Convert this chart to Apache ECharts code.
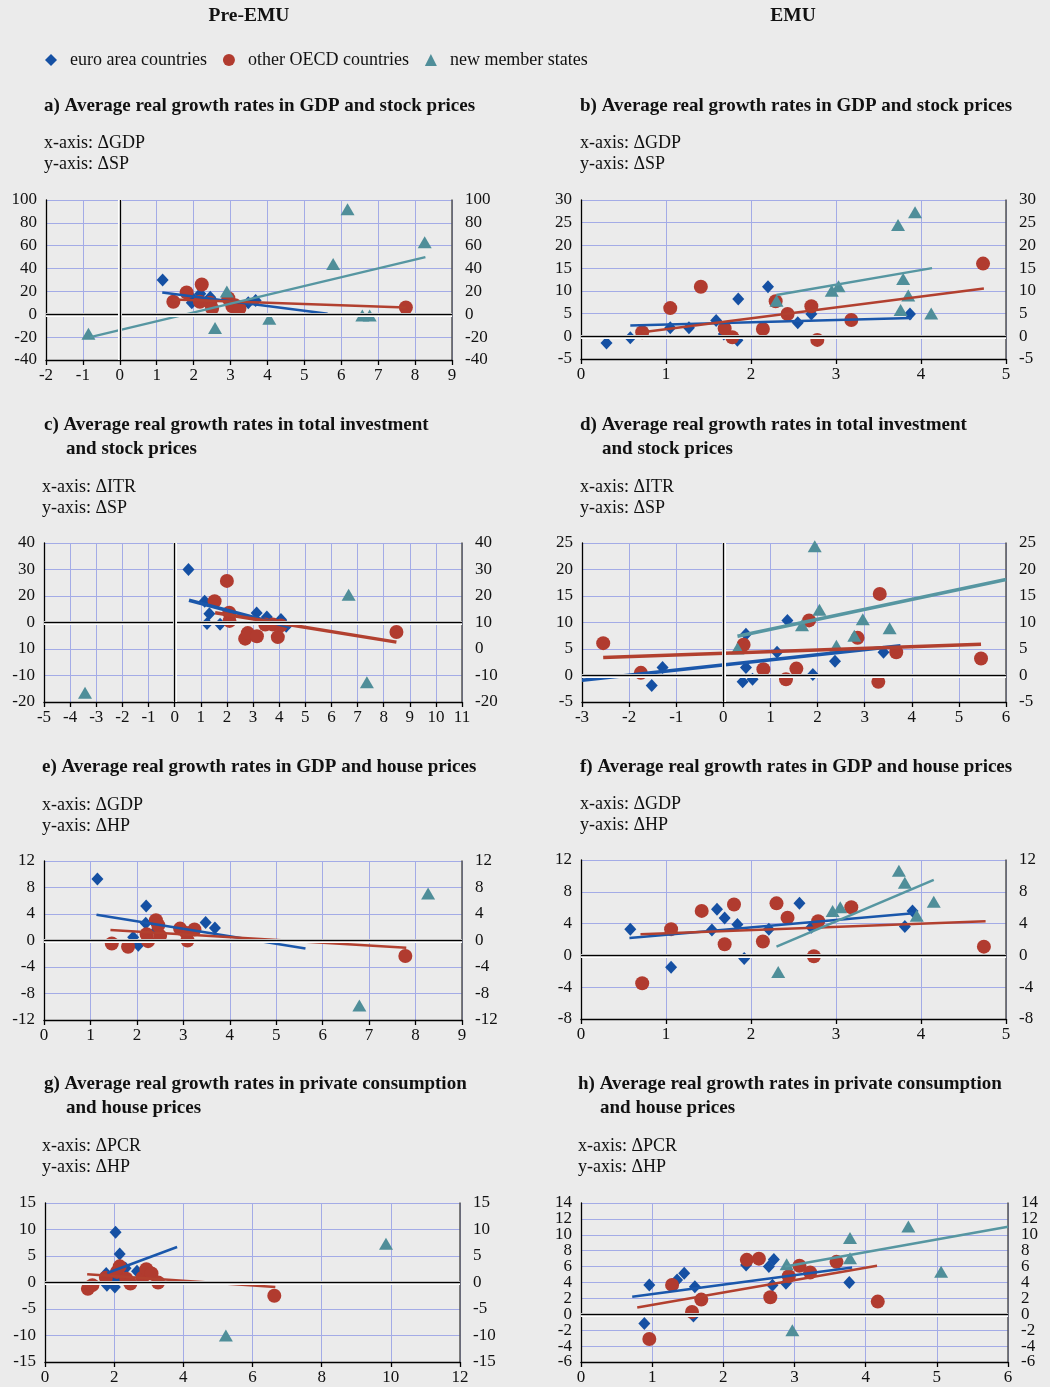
<!DOCTYPE html>
<html><head><meta charset="utf-8">
<script src="https://cdn.jsdelivr.net/npm/echarts@6/dist/echarts.min.js"></script>
<style>html,body{margin:0;padding:0;background:#ebebeb;}#c{width:1050px;height:1387px;}</style>
</head><body><div id="c"></div>
<script>
// ---------- DATA ----------
const legendNames = ['euro area countries', 'other OECD countries', 'new member states'];

// a) Pre-EMU: GDP vs stock prices
const aX = [-2, 9, 1], aY = [-40, 100, 20];
const aEuro = [[1.16,30],[1.95,10],[2.0,13],[2.18,18],[2.45,15],[2.5,12],[3.48,10],[3.68,12]];
const aOecd = [[1.45,11],[1.81,19],[2.22,26],[2.17,11],[2.45,10],[2.5,5],[2.94,14],[3.05,7],[3.12,8],[3.24,5],[7.75,6]];
const aNew  = [[-0.85,-17],[2.58,-12],[2.9,20],[4.05,-4],[5.78,44],[6.17,92],[6.57,-1],[6.77,-1],[8.26,63]];
const aEuroFit = [[1.15,19],[5.63,0.5]], aOecdFit = [[1.45,13],[7.75,6]], aNewFit = [[-0.8,-20],[8.28,50]];

// b) EMU: GDP vs stock prices
const bX = [0, 5, 1], bY = [-5, 30, 5];
const bEuro = [[0.3,-1.5],[0.58,-0.3],[1.05,1.9],[1.27,1.9],[1.59,3.5],[1.68,0.5],[1.84,-0.9],[1.85,8.2],[2.2,10.9],[2.55,3.0],[2.71,4.9],[3.87,4.9]];
const bOecd = [[0.72,0.9],[1.05,6.2],[1.41,10.9],[1.69,1.7],[1.78,-0.2],[2.14,1.6],[2.29,7.7],[2.43,4.9],[2.71,6.6],[2.78,-0.8],[3.18,3.6],[4.73,16]];
const bNew  = [[2.3,7.8],[2.95,10],[3.03,11],[3.73,24.5],[3.93,27.3],[3.79,12.6],[3.85,9],[3.76,5.8],[4.12,5]];
const bEuroFit = [[0.58,2.4],[3.89,4.0]], bOecdFit = [[0.72,0.9],[4.74,10.5]], bNewFit = [[2.3,9.1],[4.13,15]];

// c) Pre-EMU: total investment vs stock prices
const cX = [-5, 11, 1], cY = [-20, 40, 10];
const cLeftLabels = {'-20':'-20','-10':'-10','0':'10','10':'0','20':'20','30':'30','40':'40'};
const cCrossY = 10;
const cEuro = [[0.53,30],[1.15,18],[1.33,13.3],[1.24,9.6],[1.74,9.3],[2.12,10.8],[3.14,13.6],[3.53,12.1],[4.07,11.1],[4.27,8.6]];
const cOecd = [[1.53,18],[2.0,25.7],[2.09,13.7],[2.1,10.6],[2.7,3.9],[2.8,6],[3.15,4.8],[3.47,9.2],[3.76,9.2],[3.95,4.5],[4.07,8.9],[8.49,6.4]];
const cNew  = [[-3.43,-16.5],[6.66,20.5],[7.36,-12.5]];
const cEuroFit = [[0.55,18.4],[4.42,8.3]], cOecdFit = [[1.55,13.7],[8.49,2.6]];

// d) EMU: total investment vs stock prices
const dX = [-3, 6, 1], dY = [-5, 25, 5];
const dEuro = [[-1.52,-1.9],[-1.29,1.5],[0.41,-1.2],[0.62,-0.7],[0.48,1.5],[0.48,7.8],[1.14,4.4],[1.36,10.4],[1.9,0.2],[2.37,2.7],[3.4,4.4]];
const dOecd = [[-2.55,6.1],[-1.75,0.5],[0.43,5.8],[0.85,1.2],[1.33,-0.7],[1.55,1.3],[1.82,10.4],[2.85,7.1],[3.32,15.4],[3.29,-1.2],[3.67,4.4],[5.47,3.2]];
const dNew  = [[0.3,5.1],[1.67,9.5],[1.94,24.4],[2.04,12.4],[2.4,5.6],[2.78,7.5],[2.96,10.6],[3.53,8.9]];
const dEuroFit = [[-3,-0.9],[3.76,5.6]], dOecdFit = [[-2.55,3.4],[5.47,5.9]], dNewFit = [[0.3,7.4],[6,18.1]];

// e) Pre-EMU: GDP vs house prices
const eX = [0, 9, 1], eY = [-12, 12, 4];
const eEuro = [[1.15,9.3],[2.2,5.2],[2.19,2.6],[1.92,0.5],[2.03,-0.7],[2.42,1.6],[3.48,2.7],[3.68,1.9]];
const eOecd = [[1.46,-0.45],[1.81,-0.95],[2.21,0.95],[2.24,-0.1],[2.41,3.05],[2.46,2.3],[2.5,0.7],[2.93,1.8],[3.07,1.15],[3.09,0],[3.24,1.65],[7.78,-2.35]];
const eNew  = [[6.79,-9.8],[8.27,7.1]];
const eEuroFit = [[1.13,3.9],[5.63,-1.2]], eOecdFit = [[1.43,1.6],[7.8,-1.1]];

// f) EMU: GDP vs house prices
const fX = [0, 5, 1], fY = [-8, 12, 4];
const fEuro = [[0.58,3.3],[1.06,-1.5],[1.54,3.2],[1.6,5.8],[1.69,4.7],[1.84,3.9],[1.92,-0.4],[2.21,3.3],[2.57,6.55],[2.71,3.55],[3.81,3.65],[3.9,5.6]];
const fOecd = [[0.72,-3.5],[1.06,3.3],[1.42,5.6],[1.69,1.4],[1.8,6.4],[2.14,1.75],[2.3,6.55],[2.43,4.75],[2.74,-0.1],[2.79,4.3],[3.18,6.05],[4.74,1.1]];
const fNew  = [[2.32,-2.1],[2.96,5.6],[3.05,6.05],[3.74,10.65],[3.81,9.15],[3.95,5.0],[4.15,6.75]];
const fEuroFit = [[0.57,2.2],[3.91,5.3]], fOecdFit = [[0.7,2.65],[4.76,4.3]], fNewFit = [[2.3,1.1],[4.15,9.5]];

// g) Pre-EMU: private consumption vs house prices
const gX = [0, 12, 2], gY = [-15, 15, 5];
const gEuro = [[2.04,9.5],[2.16,5.4],[2.33,2.7],[2.66,2.1],[1.77,1.7],[1.79,-0.5],[2.02,-0.85],[2.06,0.7]];
const gOecd = [[1.24,-1.2],[1.37,-0.5],[1.76,0.9],[2.08,2.0],[2.16,3.05],[2.35,0.7],[2.47,-0.2],[2.82,0.9],[2.93,2.5],[3.08,1.7],[3.27,0],[6.63,-2.5]];
const gNew  = [[5.23,-10],[9.86,7.3]];
const gEuroFit = [[1.8,1.8],[3.82,6.7]], gOecdFit = [[1.22,1.55],[6.66,-0.85]];

// h) EMU: private consumption vs house prices
const hX = [0, 6, 1], hY = [-6, 14, 2];
const hEuro = [[0.89,-1.15],[0.96,3.7],[1.35,4.3],[1.45,5.15],[1.6,3.45],[1.58,-0.2],[2.32,6.2],[2.64,6.0],[2.71,6.9],[2.69,3.65],[2.88,3.9],[3.77,4.0]];
const hOecd = [[0.96,-3.1],[1.28,3.7],[1.56,0.3],[1.69,1.85],[2.33,6.85],[2.5,7.0],[2.66,2.15],[2.92,4.8],[3.07,6.1],[3.22,5.25],[3.59,6.6],[4.17,1.6]];
const hNew  = [[2.89,6.3],[2.97,-2.0],[3.78,9.6],[3.78,7.05],[4.6,11.05],[5.06,5.35]];
const hEuroFit = [[0.72,2.2],[3.81,5.9]], hOecdFit = [[0.79,0.85],[4.16,6.1]], hNewFit = [[2.87,6.0],[6,11.0]];

const headers = ['Pre-EMU', 'EMU'];
const panelTitles = {
  a: ['a) Average real growth rates in GDP and stock prices'],
  b: ['b) Average real growth rates in GDP and stock prices'],
  c: ['c) Average real growth rates in total investment', 'and stock prices'],
  d: ['d) Average real growth rates in total investment', 'and stock prices'],
  e: ['e) Average real growth rates in GDP and house prices'],
  f: ['f) Average real growth rates in GDP and house prices'],
  g: ['g) Average real growth rates in private consumption', 'and house prices'],
  h: ['h) Average real growth rates in private consumption', 'and house prices']
};
const axisNotes = {
  a: ['x-axis: ΔGDP', 'y-axis: ΔSP'], b: ['x-axis: ΔGDP', 'y-axis: ΔSP'],
  c: ['x-axis: ΔITR', 'y-axis: ΔSP'], d: ['x-axis: ΔITR', 'y-axis: ΔSP'],
  e: ['x-axis: ΔGDP', 'y-axis: ΔHP'], f: ['x-axis: ΔGDP', 'y-axis: ΔHP'],
  g: ['x-axis: ΔPCR', 'y-axis: ΔHP'], h: ['x-axis: ΔPCR', 'y-axis: ΔHP']
};

// ---------- LAYOUT / STYLE ----------
const FONT = '"Liberation Serif", "Times New Roman", serif';
const GRIDC = '#a3abe6';
const COL = {euro: '#1550a3', oecd: '#b13b2f', nms: '#4f8e99'};
const LINEC = {euro: '#1a57ab', oecd: '#b2402f', nms: '#5696a1'};

const panels = [
  {k:'a', grid:{left:46, top:200, width:406, height:160}, x:aX, y:aY, pts:[aEuro,aOecd,aNew], fits:[aEuroFit,aOecdFit,aNewFit], lw:2.5, hz:0, vz:0,
   tx:[44,106], nx:[44,143]},
  {k:'b', grid:{left:581, top:200, width:425, height:159}, x:bX, y:bY, pts:[bEuro,bOecd,bNew], fits:[bEuroFit,bOecdFit,bNewFit], lw:2.5, hz:0, vz:null,
   tx:[580,106], nx:[580,143]},
  {k:'c', grid:{left:44, top:543, width:418, height:159}, x:cX, y:cY, pts:[cEuro,cOecd,cNew], fits:[cEuroFit,cOecdFit,null], lw:3.5, hz:cCrossY, vz:0,
   tx:[44,425], nx:[42,487], leftMap:cLeftLabels},
  {k:'d', grid:{left:582, top:543, width:424, height:159}, x:dX, y:dY, pts:[dEuro,dOecd,dNew], fits:[dEuroFit,dOecdFit,dNewFit], lw:3.5, hz:0, vz:0,
   tx:[580,425], nx:[580,487]},
  {k:'e', grid:{left:44, top:861, width:418, height:159}, x:eX, y:eY, pts:[eEuro,eOecd,eNew], fits:[eEuroFit,eOecdFit,null], lw:2.5, hz:0, vz:null,
   tx:[42,767], nx:[42,805]},
  {k:'f', grid:{left:581, top:860, width:425, height:159}, x:fX, y:fY, pts:[fEuro,fOecd,fNew], fits:[fEuroFit,fOecdFit,fNewFit], lw:2.5, hz:0, vz:null,
   tx:[580,767], nx:[580,804]},
  {k:'g', grid:{left:45, top:1203, width:415, height:159}, x:gX, y:gY, pts:[gEuro,gOecd,gNew], fits:[gEuroFit,gOecdFit,null], lw:2.5, hz:0, vz:null,
   tx:[44,1084], nx:[42,1146]},
  {k:'h', grid:{left:581, top:1203, width:427, height:159}, x:hX, y:hY, pts:[hEuro,hOecd,hNew], fits:[hEuroFit,hOecdFit,hNewFit], lw:2.5, hz:0, vz:null,
   tx:[578,1084], nx:[578,1146], dense:true}
];

const grids = [], xAxes = [], yAxes = [], extraY = [], series = [], graphics = [];
const labelStyle = {fontFamily: FONT, fontSize: 17, color: '#111', showMinLabel: true, showMaxLabel: true};

function txt(text, x, y, bold, size, align) {
  graphics.push({type:'text', x:x, y:y, silent:true, style:{
    text:text, font:(bold ? 'bold ' : '') + size + 'px ' + FONT, fill:'#111',
    align: align || 'left', verticalAlign:'middle', textAlign: align || 'left', textVerticalAlign:'middle'}});
}

txt(headers[0], 249, 16, true, 19.5, 'center');
txt(headers[1], 793, 16, true, 19.5, 'center');

const keys = ['euro', 'oecd', 'nms'];
const symbols = ['diamond', 'circle', 'triangle'];
const sizes = [[12, 13], 14, [14, 12]];

panels.forEach((p, i) => {
  grids.push(Object.assign({containLabel:false}, p.grid));
  xAxes.push({gridIndex:i, type:'value', min:p.x[0], max:p.x[1], interval:p.x[2],
    axisLine:{onZero:false, lineStyle:{color:'#000', width:1.3}},
    axisTick:{show:true, length:5, lineStyle:{color:'#000', width:1.3}},
    axisLabel:Object.assign({margin:7}, labelStyle),
    splitLine:{show:true, lineStyle:{color:GRIDC, width:1}}});
  const leftLabel = Object.assign({margin:9}, labelStyle);
  if (p.leftMap) leftLabel.formatter = v => p.leftMap[String(v)];
  const rightLabel = Object.assign({margin:13}, labelStyle);
  if (p.dense) { leftLabel.show = false; rightLabel.show = false; }
  yAxes.push({gridIndex:i, type:'value', position:'left', min:p.y[0], max:p.y[1], interval:p.y[2],
    axisLine:{show:true, onZero:false, lineStyle:{color:'#000', width:1.3}},
    axisTick:{show:false}, axisLabel:leftLabel,
    splitLine:{show:true, lineStyle:{color:GRIDC, width:1}}});
  yAxes.push({gridIndex:i, type:'value', position:'right', min:p.y[0], max:p.y[1], interval:p.y[2],
    axisLine:{show:true, onZero:false, lineStyle:{color:'#555', width:1.5}},
    axisTick:{show:false}, axisLabel:rightLabel,
    splitLine:{show:false}});
  if (p.dense) {
    // tightly packed tick labels: split them over two label-only axes so none are dropped
    [0, 1].forEach(parity => {
      ['left', 'right'].forEach(pos => {
        extraY.push({gridIndex:i, type:'value', position:pos, min:p.y[0], max:p.y[1], interval:p.y[2],
          axisLine:{show:false}, axisTick:{show:false}, splitLine:{show:false},
          axisLabel:Object.assign({margin: pos === 'left' ? 9 : 13,
            formatter: v => (Math.round((v - p.y[0]) / p.y[2]) % 2 === parity) ? String(v) : ''}, labelStyle)});
      });
    });
  }

  // zero lines
  const ml = [];
  ml.push({yAxis:p.hz, lineStyle:{color:'#ffffff', width:4, type:'solid'}});
  ml.push({yAxis:p.hz, lineStyle:{color:'#000000', width:1.4, type:'solid'}});
  if (p.vz !== null) {
    ml.push({xAxis:p.vz, lineStyle:{color:'#ffffff', width:4, type:'solid'}});
    ml.push({xAxis:p.vz, lineStyle:{color:'#000000', width:1.4, type:'solid'}});
  }
  series.push({type:'scatter', name:'axes-' + p.k, xAxisIndex:i, yAxisIndex:2*i, data:[], z:1, silent:true,
    markLine:{silent:true, symbol:'none', label:{show:false}, animation:false, data:ml}});

  // points
  p.pts.forEach((d, j) => {
    series.push({type:'scatter', name:legendNames[j], xAxisIndex:i, yAxisIndex:2*i, data:d,
      symbol:symbols[j], symbolSize:sizes[j], z:3,
      itemStyle:{color:COL[keys[j]], opacity:1}});
  });
  // fitted trend lines
  p.fits.forEach((d, j) => {
    if (!d) return;
    series.push({type:'line', name:'trend-' + p.k + '-' + keys[j], xAxisIndex:i, yAxisIndex:2*i, data:d,
      symbol:'none', z:4, silent:true,
      lineStyle:{color:LINEC[keys[j]], width:p.lw}});
  });

  // texts
  const t = panelTitles[p.k];
  txt(t[0], p.tx[0], p.tx[1], true, 19);
  if (t[1]) txt(t[1], p.tx[0] + 22, p.tx[1] + 24, true, 19);
  txt(axisNotes[p.k][0], p.nx[0], p.nx[1], false, 18);
  txt(axisNotes[p.k][1], p.nx[0], p.nx[1] + 21, false, 18);
});

const chart = echarts.init(document.getElementById('c'), null, {renderer:'canvas', width:1050, height:1387});
chart.setOption({
  backgroundColor:'#ebebeb',
  animation:false,
  textStyle:{fontFamily:FONT},
  legend:{left:40, top:46, itemWidth:12, itemHeight:12, itemGap:16,
    textStyle:{fontFamily:FONT, fontSize:18, color:'#111', padding:[0,0,0,8]},
    data:[{name:legendNames[0], icon:'diamond', itemStyle:{color:COL.euro}},
          {name:legendNames[1], icon:'circle', itemStyle:{color:COL.oecd}},
          {name:legendNames[2], icon:'triangle', itemStyle:{color:COL.nms}}]},
  grid:grids, xAxis:xAxes, yAxis:yAxes.concat(extraY), series:series, graphic:graphics
});
</script>
</body></html>
